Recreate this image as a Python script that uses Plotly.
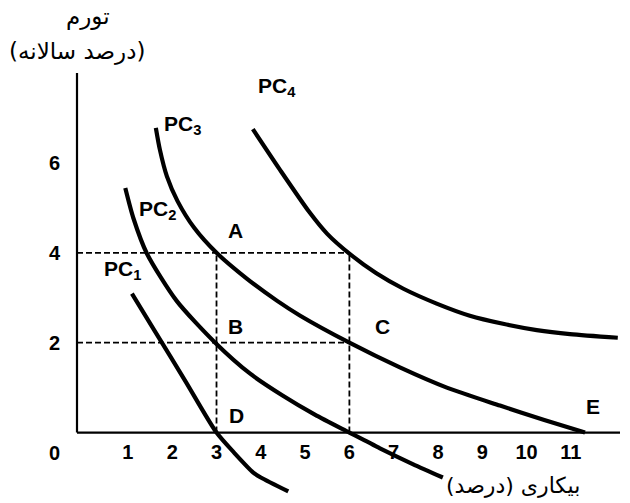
import plotly.graph_objects as go

# ---- data ----
pc1_x = [1.09, 1.60, 2.30, 3.00, 3.40, 3.83, 4.00, 4.62]
pc1_y = [3.09, 2.27, 1.14, 0.00, -0.45, -0.89, -1.00, -1.31]

pc2_x = [0.94, 1.12, 1.43, 2.10, 2.97, 3.76, 4.50, 5.22, 6.00, 6.69, 7.43, 8.11]
pc2_y = [5.44, 4.78, 3.98, 2.93, 2.00, 1.31, 0.82, 0.40, 0.00, -0.35, -0.70, -1.00]

pc3_x = [1.63, 1.72, 1.88, 2.12, 2.50, 3.00, 3.69, 4.37, 4.89, 6.00, 7.14, 8.20, 9.40, 10.40, 11.32]
pc3_y = [6.78, 6.30, 5.70, 5.15, 4.55, 4.00, 3.42, 2.93, 2.60, 2.00, 1.45, 1.00, 0.60, 0.28, 0.00]

pc4_x = [3.82, 4.43, 5.10, 5.50, 6.00, 6.60, 7.22, 7.97, 8.72, 9.47, 10.23, 10.98, 12.06]
pc4_y = [6.75, 5.85, 4.90, 4.42, 3.98, 3.55, 3.20, 2.87, 2.60, 2.42, 2.28, 2.19, 2.11]

guide_x = [3, 6]          # unemployment rates of the dashed guides
guide_y = [2, 4]          # inflation rates of the dashed guides

x_tick_vals = [1, 2, 3, 4, 5, 6, 7, 8, 9, 10, 11]
x_tick_text = ["1", "2", "3", "4", "5", "6", "7", "8", "9", "10", "11"]
y_tick_vals = [2, 4, 6]
y_tick_text = ["2", "4", "6"]

curve_names = ["PC<sub>1</sub>", "PC<sub>2</sub>", "PC<sub>3</sub>", "PC<sub>4</sub>"]
point_names = ["A", "B", "C", "D", "E"]

x_title = "بیکاری (درصد)"
y_title_1 = "تورم"
y_title_2 = "(درصد سالانه)"

X_RANGE = [-0.15, 12.11]
Y_RANGE = [-1.5, 8.0]

# ---- figure ----
fig = go.Figure()

line_style = dict(color="black", width=4.2, shape="spline", smoothing=0.7)
for xs, ys in [(pc1_x, pc1_y), (pc2_x, pc2_y), (pc3_x, pc3_y), (pc4_x, pc4_y)]:
    fig.add_trace(go.Scatter(x=xs, y=ys, mode="lines", line=line_style,
                             hoverinfo="skip", showlegend=False))

dash_style = dict(color="black", width=1.8, dash="6px,3px")
xmax_guide = max(guide_x)
for gy in guide_y:
    fig.add_trace(go.Scatter(x=[X_RANGE[0], xmax_guide], y=[gy, gy], mode="lines",
                             line=dash_style, hoverinfo="skip", showlegend=False))
ymax_guide = max(guide_y)
for gx in guide_x:
    fig.add_trace(go.Scatter(x=[gx, gx], y=[0, ymax_guide], mode="lines",
                             line=dash_style, hoverinfo="skip", showlegend=False))

# axes lines (y axis only above 0, x axis at y = 0)
fig.add_shape(type="line", xref="paper", yref="y", x0=0, x1=0, y0=0, y1=Y_RANGE[1],
              line=dict(color="black", width=2.2))
fig.add_shape(type="line", xref="paper", yref="y", x0=0, x1=1, y0=0, y1=0,
              line=dict(color="black", width=2.2))

lab_font = dict(family="Liberation Sans, Arial, sans-serif", size=21, color="black", weight="bold")

curve_label_pos = [(0.42, 3.62), (1.21, 4.95), (1.77, 6.85), (3.89, 7.68)]
for name, (lx, ly) in zip(curve_names, curve_label_pos):
    fig.add_annotation(x=lx, y=ly, text=name, showarrow=False, xanchor="left",
                       yanchor="middle", font=lab_font)

point_label_pos = [(3.42, 4.5), (3.42, 2.35), (6.74, 2.37), (3.44, 0.37), (11.5, 0.57)]
for name, (lx, ly) in zip(point_names, point_label_pos):
    fig.add_annotation(x=lx, y=ly, text=name, showarrow=False, xanchor="center",
                       yanchor="middle", font=lab_font)

# origin label
fig.add_annotation(x=0, y=0, text="0", showarrow=False, xanchor="center", yanchor="middle",
                   xshift=-29, yshift=-20,
                   font=dict(family="Liberation Sans, Arial, sans-serif", size=20,
                             color="black", weight="bold"))

fa_font = dict(family="DejaVu Sans, sans-serif", size=23, color="black")
fig.add_annotation(xref="paper", yref="paper", x=(88 - 77) / 543, y=1 + (73 - 16) / 427,
                   text=y_title_1, showarrow=False, xanchor="center", yanchor="middle",
                   font=fa_font)
fig.add_annotation(xref="paper", yref="paper", x=(77 - 77) / 543, y=1 + (73 - 52) / 427,
                   text=y_title_2, showarrow=False, xanchor="center", yanchor="middle",
                   font=fa_font)
fig.add_annotation(xref="paper", yref="paper", x=(513 - 77) / 543, y=1 - (485 - 73) / 427,
                   text=x_title, showarrow=False, xanchor="center", yanchor="middle",
                   font=dict(family="DejaVu Sans, sans-serif", size=22, color="black"))

tick_font = dict(family="Liberation Sans, Arial, sans-serif", size=20, color="black", weight="bold")
fig.update_xaxes(range=X_RANGE, tickvals=x_tick_vals, ticktext=x_tick_text,
                 showgrid=False, zeroline=False, showline=False, ticks="",
                 anchor="free", position=(0 - Y_RANGE[0]) / (Y_RANGE[1] - Y_RANGE[0]),
                 tickfont=tick_font, ticklabelstandoff=5)
fig.update_yaxes(range=Y_RANGE, tickvals=y_tick_vals, ticktext=y_tick_text,
                 showgrid=False, zeroline=False, showline=False, ticks="",
                 tickfont=tick_font, ticklabelstandoff=16)

fig.update_layout(width=630, height=503, margin=dict(l=77, r=10, t=73, b=3),
                  plot_bgcolor="white", paper_bgcolor="white", showlegend=False)

fig.write_html("out.html", config={"displayModeBar": False},
               post_script="document.body.style.margin='0';")
